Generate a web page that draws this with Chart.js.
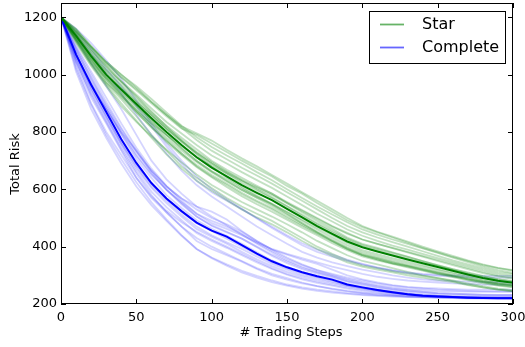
<!DOCTYPE html>
<html>
<head>
<meta charset="utf-8">
<script src="https://cdn.jsdelivr.net/npm/chart.js@4.4.1/dist/chart.umd.min.js"></script>
<style>
  html, body { margin: 0; padding: 0; background: #fff; }
</style>
</head>
<body>
<canvas id="line-chart" width="525" height="347"></canvas>
<script>
// trading steps (x)
const steps = [0, 10, 20, 30, 40, 50, 60, 70, 80, 90, 100, 110, 120, 130, 140, 150,
  160, 170, 180, 190, 200, 210, 220, 230, 240, 250, 260, 270, 280, 290, 300]

const xTicks = [0, 50, 100, 150, 200, 250, 300]
const yTicks = [200, 400, 600, 800, 1000, 1200]

// average curves
const starMean = [1200, 1135, 1065, 1000, 948, 898, 848, 800, 755, 712, 676, 645, 615, 588, 562, 532,
  502, 472, 445, 418, 398, 383, 369, 355, 342, 329, 316, 303, 291, 281, 274]
const completeMean = [1200, 1070, 965, 870, 775, 692, 622, 568, 524, 484, 456, 435, 405, 376, 349, 328,
  311, 297, 285, 268, 258, 249, 241, 234, 229, 226, 224, 222, 221, 220, 220]

// individual runs (faint lines)
const starRuns = [
  [1200, 1160, 1100, 1045, 1000, 960, 915, 868, 822, 782, 748, 718, 690, 660, 632, 600, 570, 540, 512, 485, 460, 442, 425, 410, 394, 378, 362, 346, 330, 318, 308],
  [1200, 1110, 1030, 960, 890, 835, 785, 738, 694, 652, 615, 585, 556, 530, 505, 478, 450, 420, 395, 370, 350, 338, 325, 312, 300, 290, 280, 268, 258, 250, 244],
  [1200, 1145, 1082, 1020, 975, 920, 868, 822, 780, 740, 700, 668, 640, 612, 585, 552, 520, 490, 462, 432, 410, 396, 380, 365, 350, 335, 322, 308, 296, 286, 279],
  [1200, 1125, 1045, 985, 930, 870, 815, 770, 725, 680, 645, 615, 583, 556, 530, 500, 472, 445, 418, 392, 370, 356, 342, 332, 320, 308, 297, 286, 276, 266, 260],
  [1200, 1150, 1095, 1038, 990, 945, 900, 855, 812, 790, 760, 730, 700, 672, 645, 612, 585, 552, 522, 492, 468, 450, 432, 414, 396, 380, 364, 350, 336, 325, 316],
  [1200, 1120, 1040, 970, 915, 855, 790, 735, 680, 640, 605, 570, 540, 515, 490, 460, 430, 400, 375, 352, 335, 325, 315, 306, 298, 290, 282, 272, 262, 254, 248],
  [1200, 1155, 1090, 1030, 975, 925, 872, 820, 770, 722, 680, 642, 608, 578, 548, 515, 482, 450, 420, 392, 370, 356, 342, 330, 318, 306, 296, 286, 276, 268, 262],
  [1200, 1118, 1040, 972, 925, 875, 830, 790, 750, 714, 682, 655, 628, 604, 580, 552, 525, 497, 470, 445, 425, 410, 396, 382, 368, 354, 340, 326, 312, 300, 292],
  [1200, 1140, 1070, 1012, 958, 905, 860, 810, 768, 728, 690, 655, 622, 596, 570, 540, 508, 478, 450, 425, 402, 388, 372, 358, 345, 332, 318, 304, 292, 282, 276],
  [1200, 1130, 1058, 992, 940, 892, 838, 790, 742, 700, 664, 636, 604, 575, 550, 522, 494, 466, 440, 412, 388, 374, 360, 348, 336, 322, 310, 298, 286, 276, 270],
  [1200, 1148, 1085, 1030, 978, 930, 882, 835, 795, 755, 718, 690, 660, 632, 605, 575, 545, 515, 488, 460, 438, 420, 404, 390, 375, 360, 346, 332, 318, 306, 298],
  [1200, 1122, 1050, 985, 930, 875, 822, 772, 725, 685, 650, 620, 588, 560, 535, 505, 476, 448, 420, 395, 372, 360, 346, 334, 322, 310, 300, 288, 278, 270, 264],
  [1200, 1138, 1068, 1005, 952, 905, 856, 810, 765, 725, 690, 660, 632, 608, 585, 556, 528, 500, 472, 448, 425, 410, 395, 380, 365, 350, 336, 322, 308, 296, 288],
  [1200, 1132, 1062, 995, 944, 890, 840, 790, 744, 700, 662, 630, 598, 570, 542, 512, 482, 452, 425, 398, 376, 362, 348, 336, 324, 312, 300, 290, 280, 272, 266],
  [1200, 1158, 1098, 1040, 992, 950, 905, 860, 815, 772, 735, 705, 675, 648, 620, 590, 560, 530, 500, 472, 450, 432, 416, 400, 384, 368, 352, 338, 324, 312, 304],
  [1200, 1115, 1035, 965, 900, 840, 780, 722, 672, 630, 595, 562, 530, 502, 478, 450, 420, 392, 368, 345, 330, 320, 310, 300, 292, 284, 276, 266, 258, 250, 245],
  [1200, 1142, 1075, 1015, 965, 912, 862, 815, 772, 730, 695, 662, 632, 600, 572, 542, 512, 482, 455, 428, 406, 392, 378, 364, 350, 336, 322, 310, 298, 288, 280],
  [1200, 1128, 1055, 990, 935, 882, 830, 780, 735, 695, 660, 628, 598, 572, 548, 520, 490, 460, 432, 405, 382, 368, 354, 342, 330, 318, 306, 294, 282, 272, 266],
  [1200, 1150, 1098, 1045, 1000, 955, 905, 860, 820, 795, 770, 738, 708, 680, 650, 620, 590, 560, 530, 500, 472, 452, 435, 418, 400, 384, 368, 352, 338, 326, 318],
  [1200, 1126, 1052, 978, 922, 868, 818, 765, 720, 678, 642, 608, 576, 548, 522, 494, 466, 440, 412, 388, 366, 352, 340, 328, 316, 304, 294, 282, 272, 264, 258]
]

const completeRuns = [
  [1200, 1150, 1090, 1020, 960, 890, 820, 750, 690, 630, 590, 560, 530, 500, 470, 440, 412, 390, 372, 355, 340, 328, 318, 310, 305, 302, 300, 300, 298, 298, 298],
  [1200, 1030, 900, 800, 720, 640, 570, 520, 470, 430, 400, 375, 350, 325, 305, 290, 275, 262, 252, 244, 238, 233, 229, 226, 224, 222, 221, 220, 220, 220, 220],
  [1200, 1080, 975, 880, 790, 705, 640, 580, 535, 492, 462, 438, 410, 380, 352, 330, 312, 298, 286, 270, 260, 250, 242, 236, 231, 228, 226, 224, 222, 221, 220],
  [1200, 1120, 1040, 960, 880, 790, 700, 635, 585, 540, 505, 475, 442, 410, 380, 352, 330, 312, 298, 284, 272, 262, 254, 248, 242, 238, 236, 234, 232, 232, 232],
  [1200, 1050, 930, 835, 740, 655, 580, 520, 470, 420, 392, 370, 348, 322, 300, 285, 272, 262, 254, 246, 240, 236, 232, 229, 227, 225, 224, 223, 222, 222, 222],
  [1200, 1090, 985, 895, 810, 730, 665, 610, 568, 530, 500, 478, 452, 420, 390, 362, 338, 318, 302, 288, 276, 266, 258, 252, 248, 245, 244, 243, 242, 242, 242],
  [1200, 1060, 960, 880, 800, 735, 665, 610, 568, 540, 522, 495, 455, 420, 390, 372, 355, 340, 320, 300, 286, 275, 266, 260, 256, 254, 252, 250, 250, 250, 250],
  [1200, 1040, 920, 830, 735, 640, 575, 525, 485, 452, 425, 400, 375, 350, 325, 305, 290, 278, 268, 258, 250, 244, 238, 234, 230, 228, 226, 225, 224, 224, 224],
  [1200, 1140, 1075, 1005, 935, 860, 790, 725, 665, 615, 575, 540, 505, 470, 440, 410, 382, 362, 345, 332, 320, 310, 300, 292, 286, 282, 280, 278, 276, 276, 276],
  [1200, 1075, 955, 855, 760, 680, 610, 560, 512, 470, 440, 415, 392, 365, 340, 320, 302, 290, 278, 264, 256, 248, 242, 236, 232, 228, 226, 224, 223, 222, 222],
  [1200, 1020, 895, 790, 705, 625, 555, 495, 440, 392, 362, 338, 316, 298, 282, 268, 258, 250, 244, 238, 234, 230, 228, 226, 224, 223, 222, 221, 220, 220, 220],
  [1200, 1095, 1000, 905, 815, 735, 660, 598, 548, 505, 472, 450, 428, 400, 372, 348, 326, 310, 296, 280, 270, 260, 252, 246, 242, 238, 236, 234, 233, 232, 232],
  [1200, 1070, 970, 880, 795, 715, 650, 598, 555, 515, 490, 470, 445, 415, 392, 375, 360, 345, 330, 318, 305, 295, 288, 282, 278, 275, 272, 270, 268, 268, 268],
  [1200, 1060, 950, 858, 765, 685, 618, 566, 522, 482, 455, 428, 400, 372, 346, 325, 308, 294, 282, 266, 256, 248, 240, 234, 230, 227, 225, 223, 222, 221, 221],
  [1200, 1160, 1110, 1050, 985, 910, 830, 760, 700, 645, 600, 565, 532, 498, 465, 435, 405, 382, 365, 350, 338, 326, 316, 308, 302, 298, 296, 294, 292, 292, 292],
  [1200, 1010, 880, 780, 690, 610, 545, 490, 438, 392, 360, 334, 310, 292, 276, 264, 254, 246, 240, 235, 231, 228, 226, 224, 223, 222, 221, 220, 220, 220, 220],
  [1200, 1085, 990, 890, 800, 720, 655, 600, 552, 505, 475, 452, 428, 398, 368, 342, 322, 306, 292, 278, 266, 256, 248, 242, 238, 234, 232, 230, 229, 228, 228],
  [1200, 1055, 945, 850, 758, 672, 605, 552, 505, 462, 435, 410, 382, 356, 332, 312, 296, 284, 274, 262, 254, 246, 240, 234, 230, 227, 225, 224, 223, 222, 222],
  [1200, 1100, 1010, 920, 830, 745, 672, 612, 560, 515, 482, 462, 440, 414, 385, 358, 336, 318, 305, 292, 282, 272, 264, 258, 254, 250, 248, 246, 245, 244, 244],
  [1200, 1045, 935, 842, 748, 662, 592, 538, 492, 448, 420, 396, 370, 345, 322, 302, 286, 274, 264, 254, 246, 240, 234, 230, 227, 225, 223, 222, 221, 220, 220]
]

const FONT = '"DejaVu Sans", sans-serif'

const toPoints = values => values.map((v, i) => ({ x: steps[i], y: v }))

const runDataset = (values, color, order) => ({
  data: toPoints(values),
  borderColor: color,
  borderWidth: 1.8,
  pointRadius: 0,
  order
})

const datasets = [
  { label: 'Star', data: toPoints(starMean), borderColor: '#008000', borderWidth: 2, pointRadius: 0, order: 0 },
  { label: 'Complete', data: toPoints(completeMean), borderColor: '#0000ff', borderWidth: 2, pointRadius: 0, order: 0 },
  ...starRuns.map(r => runDataset(r, 'rgba(0,128,0,0.24)', 1)),
  ...completeRuns.map(r => runDataset(r, 'rgba(0,0,255,0.17)', 2))
]

// matplotlib-ish frame: box, inward ticks, axis titles, legend
const framePlugin = {
  id: 'frame',
  afterDraw(chart) {
    const { ctx, chartArea: a, scales: { x, y } } = chart
    ctx.save()
    ctx.strokeStyle = '#000'
    ctx.lineWidth = 1
    ctx.strokeRect(a.left + 0.5, a.top + 0.5, a.right - a.left - 1, a.bottom - a.top - 1)

    ctx.beginPath()
    xTicks.forEach(t => {
      const px = Math.round(x.getPixelForValue(t)) + 0.5
      ctx.moveTo(px, a.bottom); ctx.lineTo(px, a.bottom - 5)
      ctx.moveTo(px, a.top); ctx.lineTo(px, a.top + 5)
    })
    yTicks.forEach(t => {
      const py = Math.round(y.getPixelForValue(t)) + 0.5
      ctx.moveTo(a.left, py); ctx.lineTo(a.left + 5, py)
      ctx.moveTo(a.right, py); ctx.lineTo(a.right - 5, py)
    })
    ctx.stroke()

    // axis titles
    ctx.fillStyle = '#000'
    ctx.font = '13px ' + FONT
    ctx.textAlign = 'center'
    ctx.textBaseline = 'middle'
    ctx.fillText('# Trading Steps', 291, 333)
    ctx.save()
    ctx.translate(16, 164)
    ctx.rotate(-Math.PI / 2)
    ctx.fillText('Total Risk', 0, 0)
    ctx.restore()

    // legend
    ctx.fillStyle = '#fff'
    ctx.fillRect(369.5, 11.5, 136, 52)
    ctx.strokeRect(369.5, 11.5, 136, 52)
    const items = [
      { label: 'Star', color: 'rgba(0,128,0,0.6)', y: 24 },
      { label: 'Complete', color: 'rgba(0,0,255,0.6)', y: 47 }
    ]
    ctx.font = '16px ' + FONT
    ctx.textAlign = 'left'
    items.forEach(it => {
      ctx.strokeStyle = it.color
      ctx.lineWidth = 1.8
      ctx.beginPath()
      ctx.moveTo(380, it.y + 0.5); ctx.lineTo(404, it.y + 0.5)
      ctx.stroke()
      ctx.fillStyle = '#000'
      ctx.fillText(it.label, 422, it.y + 1)
    })
    ctx.restore()
  }
}

const noEdgePadding = s => {
  s.paddingLeft = 0
  s.paddingRight = 0
  s.paddingTop = 0
  s.paddingBottom = 0
}

new Chart(document.getElementById('line-chart'), {
  type: 'line',
  data: { datasets },
  options: {
    responsive: false,
    animation: false,
    layout: { padding: { top: 3, right: 12, left: 0, bottom: 0 } },
    elements: { line: { tension: 0 } },
    plugins: { legend: { display: false }, tooltip: { enabled: false } },
    scales: {
      x: {
        type: 'linear',
        min: 0,
        max: 300,
        afterBuildTicks: s => { s.ticks = xTicks.map(v => ({ value: v })) },
        afterFit: s => { s.height = 43; noEdgePadding(s) },
        grid: { drawOnChartArea: false, drawTicks: false },
        border: { display: false },
        ticks: { padding: 6, color: '#000', font: { family: FONT, size: 13 }, maxRotation: 0, callback: v => String(v) }
      },
      y: {
        min: 200,
        max: 1250,
        afterBuildTicks: s => { s.ticks = yTicks.map(v => ({ value: v })) },
        afterFit: s => { s.width = 61; noEdgePadding(s) },
        grid: { drawOnChartArea: false, drawTicks: false },
        border: { display: false },
        ticks: { padding: 4, color: '#000', font: { family: FONT, size: 13 }, callback: v => String(v) }
      }
    }
  },
  plugins: [framePlugin]
})
</script>
</body>
</html>
